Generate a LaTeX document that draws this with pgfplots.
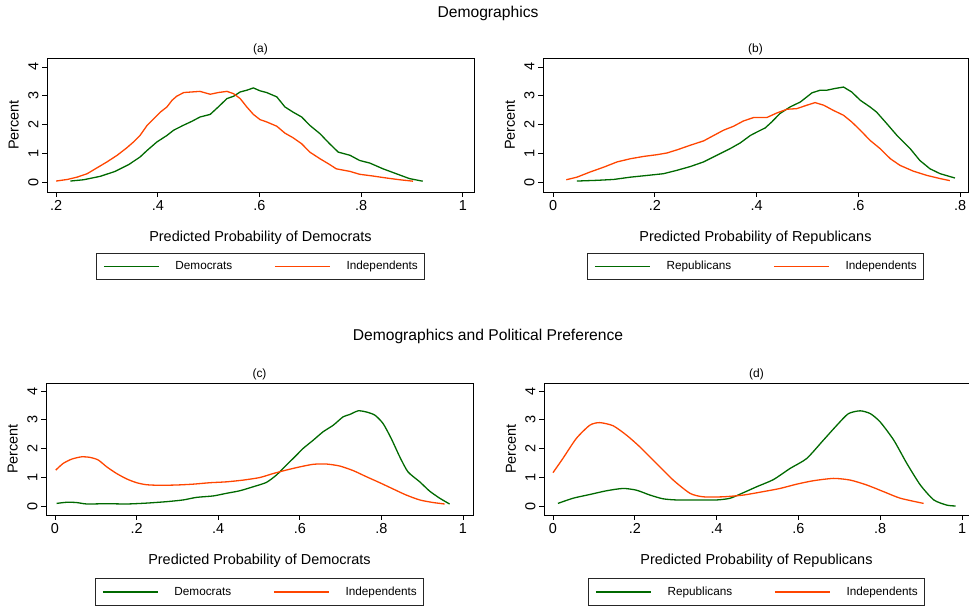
\documentclass[border=0pt]{standalone}
\usepackage{pgfplots}
\pgfplotsset{compat=1.18}
\usepackage{fontspec}
\setmainfont{Liberation Sans}
\definecolor{sgreen}{RGB}{0,105,0}
\definecolor{sorange}{RGB}{255,69,0}
\pgfplotsset{
  stata/.style={
    scale only axis,
    axis line style={line width=0.8bp, black},
    every tick/.style={black, line width=0.8bp},
    tick align=outside,
    major tick length=5bp,
    tick pos=left,
    ticklabel style={font=\fontsize{14.5}{16}\selectfont},
    yticklabel style={rotate=90, anchor=south},
    ytick={0,1,2,3,4}, yticklabels={0,1,2,3,4},
    ylabel={Percent},
    label style={font=\fontsize{14.5}{16}\selectfont},
    ylabel style={at={(axis description cs:-0.078,0.5)}, anchor=center},
    xlabel style={at={(axis description cs:0.5,0)}, anchor=center, yshift=-46bp},
    title style={font=\fontsize{12}{14}\selectfont, inner sep=0pt, at={(axis description cs:0.5,1)}, anchor=south, yshift=-3bp},
    every axis plot/.append style={line width=1.3bp},
    legend columns=2,
    legend image code/.code={\draw[##1, line width=1.3bp] (0bp,0bp) -- (55bp,0bp);},
    legend style={draw=black!85, line width=0.8bp, fill=white,
      at={(axis description cs:0.5,0)}, anchor=north, yshift=-61bp,
      font=\fontsize{11.8}{13}\selectfont,
      inner xsep=7bp, inner ysep=8bp,
      nodes={inner sep=0pt},
      /tikz/every odd column/.append style={column sep=16bp},
      /tikz/every even column/.append style={column sep=42bp}},
    legend cell align=left,
  }
}
\begin{document}
\begin{tikzpicture}[x=1bp,y=1bp]
\path[use as bounding box] (0,0) rectangle (969,606);
\node[font=\fontsize{15.7}{18}\selectfont] at (488,592.5) {Demographics};
\node[font=\fontsize{15.7}{18}\selectfont] at (488,269.5) {Demographics and Political Preference};

% (a)
\begin{axis}[stata, at={(47bp,414bp)}, anchor=south west, width=427bp, height=134bp,
  xmin=0.182, xmax=1.022, ymin=-0.345, ymax=4.31,
  xtick={0.2,0.4,0.6,0.8,1}, xticklabels={.2,.4,.6,.8,1},
  title={(a)}, xlabel={Predicted Probability of Democrats}]
\addplot[sgreen] coordinates {
(0.228,0.035)(0.254,0.08)(0.287,0.2)(0.316,0.37)(0.343,0.61)(0.365,0.87)(0.379,1.10)
(0.398,1.39)(0.418,1.62)(0.431,1.80)(0.450,1.97)(0.467,2.11)(0.483,2.26)(0.503,2.35)
(0.519,2.61)(0.536,2.90)(0.549,2.98)(0.562,3.13)(0.575,3.19)(0.588,3.27)(0.601,3.17)
(0.614,3.11)(0.634,2.96)(0.650,2.61)(0.666,2.43)(0.683,2.26)(0.699,1.97)(0.719,1.68)
(0.738,1.33)(0.755,1.04)(0.778,0.93)(0.797,0.75)(0.817,0.66)(0.843,0.46)(0.869,0.29)
(0.895,0.12)(0.921,0.03)};
\addplot[sorange] coordinates {
(0.200,0.035)(0.222,0.09)(0.241,0.17)(0.261,0.29)(0.280,0.49)(0.300,0.70)(0.320,0.93)
(0.339,1.19)(0.352,1.39)(0.365,1.62)(0.379,1.97)(0.392,2.20)(0.405,2.43)(0.418,2.61)
(0.428,2.84)(0.437,2.98)(0.451,3.11)(0.467,3.13)(0.483,3.15)(0.503,3.05)(0.519,3.11)
(0.536,3.15)(0.549,3.07)(0.562,2.90)(0.575,2.61)(0.588,2.35)(0.601,2.17)(0.614,2.09)
(0.634,1.94)(0.650,1.70)(0.666,1.54)(0.683,1.33)(0.699,1.04)(0.719,0.81)(0.738,0.61)
(0.751,0.46)(0.778,0.37)(0.797,0.27)(0.823,0.21)(0.850,0.14)(0.876,0.08)(0.902,0.03)};
\legend{Democrats,Independents}
\end{axis}

% (b)
\begin{axis}[stata, at={(543bp,414bp)}, anchor=south west, width=425bp, height=134bp,
  xmin=-0.0197, xmax=0.8157, ymin=-0.345, ymax=4.31,
  xtick={0,0.2,0.4,0.6,0.8}, xticklabels={0,.2,.4,.6,.8},
  title={(b)}, xlabel={Predicted Probability of Republicans}]
\addplot[sgreen] coordinates {
(0.047,0.035)(0.086,0.06)(0.119,0.09)(0.152,0.17)(0.185,0.23)(0.217,0.29)(0.244,0.41)
(0.270,0.54)(0.296,0.70)(0.322,0.93)(0.348,1.16)(0.368,1.36)(0.388,1.62)(0.401,1.74)
(0.417,1.88)(0.430,2.09)(0.446,2.38)(0.466,2.61)(0.486,2.78)(0.499,2.96)(0.509,3.10)
(0.525,3.19)(0.538,3.19)(0.554,3.25)(0.571,3.30)(0.587,3.13)(0.604,2.84)(0.623,2.61)
(0.636,2.43)(0.656,2.03)(0.676,1.62)(0.702,1.16)(0.721,0.75)(0.741,0.46)(0.761,0.29)
(0.790,0.14)};
\addplot[sorange] coordinates {
(0.026,0.08)(0.047,0.17)(0.073,0.35)(0.100,0.52)(0.126,0.70)(0.152,0.81)(0.178,0.89)
(0.204,0.95)(0.224,1.01)(0.244,1.12)(0.270,1.28)(0.296,1.43)(0.316,1.62)(0.335,1.80)
(0.355,1.94)(0.374,2.12)(0.394,2.24)(0.420,2.24)(0.440,2.40)(0.460,2.53)(0.479,2.55)
(0.499,2.67)(0.515,2.76)(0.532,2.67)(0.551,2.49)(0.571,2.32)(0.587,2.09)(0.604,1.80)
(0.623,1.45)(0.643,1.16)(0.663,0.81)(0.682,0.58)(0.708,0.38)(0.735,0.23)(0.761,0.12)
(0.780,0.05)};
\legend{Republicans,Independents}
\end{axis}

% (c)
\begin{axis}[stata, at={(46bp,91bp)}, anchor=south west, width=427bp, height=132bp,
  xmin=-0.022, xmax=1.0245, ymin=-0.313, ymax=4.278,
  xtick={0,0.2,0.4,0.6,0.8,1}, xticklabels={0,.2,.4,.6,.8,1},
  title={(c)}, xlabel={Predicted Probability of Democrats},
  legend style={yshift=-2.5bp}]
\addplot[sgreen, smooth, tension=0.4] coordinates {
(0.004,0.09)(0.029,0.13)(0.053,0.12)(0.078,0.07)(0.127,0.08)(0.176,0.07)(0.224,0.10)
(0.273,0.15)(0.314,0.21)(0.347,0.30)(0.388,0.35)(0.420,0.44)(0.453,0.53)(0.486,0.67)
(0.518,0.82)(0.543,1.08)(0.567,1.42)(0.592,1.77)(0.608,2.00)(0.633,2.29)(0.657,2.58)
(0.682,2.81)(0.706,3.10)(0.722,3.18)(0.743,3.31)(0.763,3.27)(0.784,3.16)(0.804,2.87)
(0.824,2.35)(0.845,1.71)(0.865,1.19)(0.894,0.84)(0.918,0.52)(0.943,0.27)(0.967,0.07)};
\addplot[sorange, smooth, tension=0.4] coordinates {
(0.002,1.25)(0.020,1.48)(0.041,1.63)(0.065,1.71)(0.086,1.69)(0.106,1.60)(0.127,1.36)
(0.151,1.13)(0.176,0.94)(0.200,0.81)(0.224,0.74)(0.257,0.72)(0.298,0.73)(0.339,0.76)
(0.380,0.81)(0.420,0.84)(0.461,0.90)(0.502,0.99)(0.535,1.13)(0.567,1.25)(0.600,1.36)
(0.633,1.45)(0.665,1.46)(0.698,1.39)(0.731,1.23)(0.763,1.02)(0.796,0.81)(0.829,0.59)
(0.861,0.38)(0.894,0.21)(0.927,0.12)(0.955,0.07)};
\legend{Democrats,Independents}
\end{axis}

% (d)
\begin{axis}[stata, at={(544bp,91bp)}, anchor=south west, width=425bp, height=132bp,
  xmin=-0.022, xmax=1.017, ymin=-0.313, ymax=4.278,
  xtick={0,0.2,0.4,0.6,0.8,1}, xticklabels={0,.2,.4,.6,.8,1},
  title={(d)}, xlabel={Predicted Probability of Republicans},
  legend style={yshift=-2.5bp}]
\addplot[sgreen, smooth, tension=0.4] coordinates {
(0.012,0.09)(0.049,0.27)(0.090,0.40)(0.131,0.53)(0.171,0.61)(0.204,0.55)(0.237,0.38)
(0.269,0.25)(0.302,0.21)(0.351,0.21)(0.400,0.21)(0.433,0.27)(0.465,0.46)(0.498,0.67)
(0.539,0.92)(0.580,1.31)(0.620,1.65)(0.661,2.29)(0.694,2.81)(0.722,3.21)(0.751,3.31)
(0.776,3.21)(0.800,2.92)(0.833,2.29)(0.865,1.48)(0.898,0.73)(0.931,0.21)(0.963,0.03)
(0.984,0.00)};
\addplot[sorange, smooth, tension=0.4] coordinates {
(0.000,1.16)(0.024,1.65)(0.057,2.35)(0.090,2.81)(0.114,2.90)(0.147,2.79)(0.180,2.46)
(0.212,2.06)(0.253,1.48)(0.294,0.90)(0.335,0.44)(0.367,0.32)(0.416,0.32)(0.465,0.38)
(0.514,0.50)(0.555,0.61)(0.596,0.76)(0.637,0.88)(0.686,0.96)(0.727,0.90)(0.767,0.73)
(0.808,0.50)(0.849,0.27)(0.906,0.09)};
\legend{Republicans,Independents}
\end{axis}
\end{tikzpicture}
\end{document}
